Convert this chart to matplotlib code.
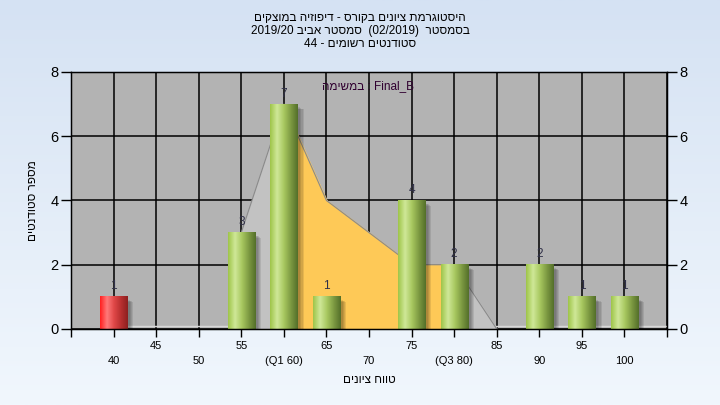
import numpy as np
import matplotlib.pyplot as plt
from matplotlib.colors import LinearSegmentedColormap
from matplotlib.patches import Rectangle

plt.rcParams['font.family'] = ['Liberation Sans', 'DejaVu Sans']

# histogram data
grades = [40, 55, 60, 65, 75, 80, 90, 95, 100]
counts = [1, 3, 7, 1, 4, 2, 2, 1, 1]
failed = [True, False, False, False, False, False, False, False, False]

# background polygon (IQR shaded between Q1 and Q3)
curve_x = [55, 60, 65, 70, 75, 80, 85]
curve_y = [3, 7, 4, 3, 2, 2, 0]
q1, q3 = 60, 80

tick_pos = list(range(35, 110, 5))
tick_text = ['', '40', '45', '50', '55', '(Q1 60)', '65', '70', '75', '(Q3 80)',
             '85', '90', '95', '100', '']

# hebrew strings, written in visual order (matplotlib has no bidi)
title1 = 'היסטוגרמת ציונים בקורס - דיפוזיה במוצקים'[::-1]
title2 = '2019/20 ' + 'סמסטר אביב'[::-1] + '  (02/2019)  ' + 'בסמסטר'[::-1]
title3 = '44 - ' + 'סטודנטים רשומים'[::-1]
ylab = 'מספר סטודנטים'[::-1]
xlab = 'טווח ציונים'[::-1]
note = 'במשימה'[::-1] + ' : Final_B'

fig = plt.figure(figsize=(7.2, 4.05), dpi=100)

# figure background gradient
bg = fig.add_axes([0, 0, 1, 1], zorder=-10)
bg_cmap = LinearSegmentedColormap.from_list('bg', ['#d5e2f3', '#f1f7fd'])
bg.imshow(np.linspace(0, 1, 256).reshape(-1, 1), aspect='auto', cmap=bg_cmap,
          extent=[0, 1, 0, 1])
bg.axis('off')

ax = fig.add_axes([0.0986, 0.1877, 0.8278, 0.6346])
ax.set_facecolor('#b3b3b3')

# area behind the bars
cx = np.array(curve_x, dtype=float)
cy = np.array(curve_y, dtype=float)
ax.plot([40, 105], [0.09, 0.09], color='#d8d8d8', lw=1, zorder=0.9)
ax.fill_between(cx, cy, color='#c2c2c2', zorder=1)
inside = (cx >= q1) & (cx <= q3)
ax.fill_between(cx, cy, where=inside, color='#fec957', zorder=1.5)
ax.plot(cx, cy, color='#8a8a8a', lw=0.8, zorder=1.6)

ax.grid(True, color='black', lw=1.1, zorder=0.5)
ax.set_axisbelow(True)

green = LinearSegmentedColormap.from_list(
    'g', ['#9fc54a', '#cfe898', '#a8c860', '#7d9a42', '#54702a'])
red = LinearSegmentedColormap.from_list(
    'r', ['#ff2020', '#ff7a7a', '#e04848', '#b83030', '#8e2020'])
grad = np.linspace(0, 1, 64).reshape(1, -1)

w = 3.2
for g, c, f in zip(grades, counts, failed):
    # soft shadow
    for k in range(4):
        ax.add_patch(Rectangle((g - w / 2 + 0.35 + k * 0.12, -0.12 - k * 0.02),
                               w, c + 0.02, color='black', alpha=0.09,
                               lw=0, zorder=2))
    ax.imshow(grad, aspect='auto', cmap=red if f else green,
              extent=[g - w / 2, g + w / 2, 0, c], zorder=4)
    ax.text(g, c + 0.14, str(c), ha='center', va='bottom', fontsize=8.5,
            color='#303048', zorder=5)

ax.set_xlim(35, 105)
ax.set_ylim(0, 8)
ax.set_yticks([0, 2, 4, 6, 8])
ax.set_xticks(tick_pos)
labels = []
for p, t in zip(tick_pos, tick_text):
    labels.append(t if (p // 5) % 2 == 1 else '\n' + t)
ax.set_xticklabels(labels, fontsize=8, linespacing=1.55)
ax.tick_params(axis='x', length=6, width=1, pad=3)
ax.tick_params(axis='y', length=7, width=1, labelsize=10.5, pad=2)
for s in ax.spines.values():
    s.set_color('black')
    s.set_linewidth(1)
    s.set_zorder(7)

ax2 = ax.twinx()
ax2.set_ylim(0, 8)
ax2.set_yticks([0, 2, 4, 6, 8])
ax2.tick_params(axis='y', length=7, width=1, labelsize=10.5, pad=2)

ax.text(0.498, 0.945, note, transform=ax.transAxes, ha='center', va='center',
        fontsize=8.5, color='#300030', zorder=6)

ax.set_xlabel(xlab, fontsize=8.5, labelpad=6)
ax.set_ylabel(ylab, fontsize=8.5, labelpad=8)

fig.text(0.5, 0.955, title1, ha='center', va='center', fontsize=8.5)
fig.text(0.5, 0.923, title2, ha='center', va='center', fontsize=8.5)
fig.text(0.5, 0.891, title3, ha='center', va='center', fontsize=8.5)

fig.savefig('out.png', dpi=100)
